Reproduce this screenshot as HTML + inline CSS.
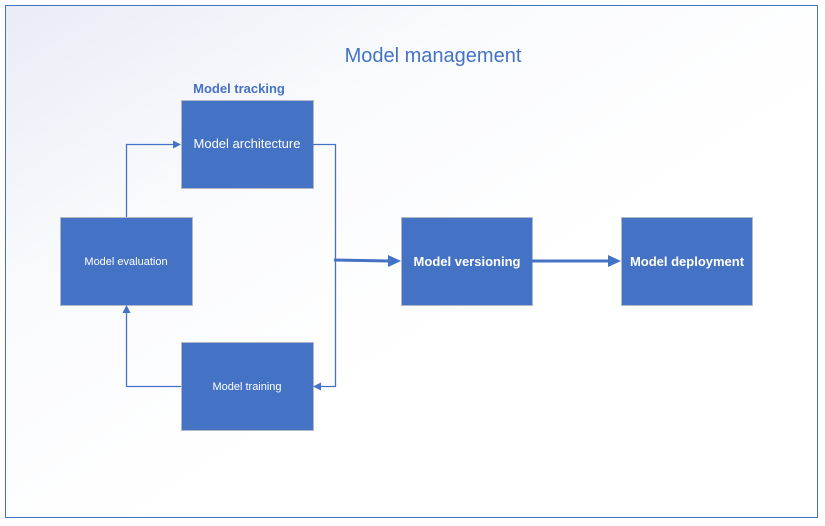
<!DOCTYPE html>
<html><head><style>
body{margin:0;width:825px;height:526px;overflow:hidden;background:#fff;font-family:"Liberation Sans",sans-serif}
</style></head><body>
<svg width="825" height="526" xmlns="http://www.w3.org/2000/svg" style="position:absolute;left:0;top:0">
<defs>
<linearGradient id="g" x1="0" y1="0" x2="0.6" y2="0.6">
<stop offset="0" stop-color="#e9ecf6"/><stop offset="0.5" stop-color="#fafbfe"/><stop offset="1" stop-color="#ffffff"/>
</linearGradient>
</defs>
<rect x="5.5" y="5.5" width="812" height="512" fill="url(#g)" stroke="#4472c4" stroke-width="1"/>
<text x="433" y="62" text-anchor="middle" font-size="20" fill="#4472c4">Model management</text>
<text x="239" y="93" text-anchor="middle" font-size="13" font-weight="bold" fill="#4472c4">Model tracking</text>
<g fill="#4472c4" stroke="#b4b8c4" stroke-width="1">
<rect x="181.5" y="100.5" width="132" height="88"/>
<rect x="60.5" y="217.5" width="132" height="88"/>
<rect x="181.5" y="342.5" width="132" height="88"/>
<rect x="401.5" y="217.5" width="131" height="88"/>
<rect x="621.5" y="217.5" width="131" height="88"/>
</g>
<g fill="#fff" text-anchor="middle">
<text x="247" y="148" font-size="13">Model architecture</text>
<text x="126" y="265" font-size="11">Model evaluation</text>
<text x="247" y="390" font-size="11">Model training</text>
<text x="467" y="266" font-size="13" font-weight="bold">Model versioning</text>
<text x="687" y="266" font-size="13" font-weight="bold">Model deployment</text>
</g>
<g stroke="#4472c4" fill="none" stroke-width="1.3">
<polyline points="126.5,217 126.5,144.5 174,144.5"/>
<polyline points="313,144.5 335.5,144.5 335.5,386.5 320,386.5"/>
<polyline points="181,386.5 126.5,386.5 126.5,312"/>
</g>
<g stroke="#4472c4" stroke-width="3" fill="none">
<line x1="334" y1="260" x2="390" y2="261"/>
<line x1="532" y1="261" x2="610" y2="261"/>
</g>
<g fill="#4472c4">
<polygon points="181,144.5 173,140.5 173,148.5"/>
<polygon points="313,386.5 321,382.5 321,390.5"/>
<polygon points="126.5,305 122.5,313 130.5,313"/>
<polygon points="401,261 388,255 388,267"/>
<polygon points="621,261 608,255 608,267"/>
</g>
</svg>
</body></html>
